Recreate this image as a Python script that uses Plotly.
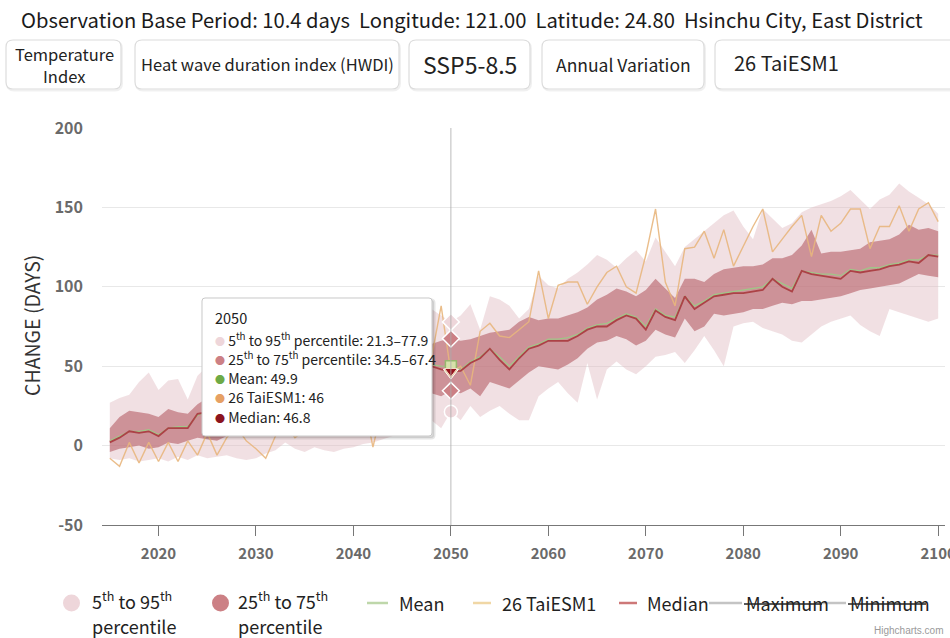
import plotly.graph_objects as go

# ---------------- data ----------------
years = list(range(2015, 2101))

p5 = [-8, -9, -8, -10, -9, -8, -10, -7, -9, -6,
      -8, -7, -6, -8, -9, -8, -5, -3, 2, -2,
      -4, -1, -3, -4, -2, -1, 1, 2, 4, 6,
      8, 12, 14, 16, 11, 21.3, 16, 25, 18, 22,
      25, 20, 16, 16, 31, 36, 40, 33, 27, 52,
      29, 48, 53, 48, 45, 50, 56, 57, 59, 52,
      60, 69, 60, 50, 75, 77, 78, 74, 72, 70,
      66, 65, 70, 75, 78, 80, 82, 76, 72, 69,
      86, 84, 82, 80, 78, 80]

p25 = [-4, -2, -1, 0, -2, -1, 2, 1, 3, 5,
       4, 3, 6, 8, 7, 10, 12, 11, 14, 16,
       15, 18, 19, 18, 21, 22, 21, 24, 26, 25,
       28, 30, 29, 33, 31, 34.5, 33, 36, 31, 40,
       38, 36, 41, 46, 50, 49, 48, 51, 55, 61,
       65, 66, 69, 67, 63, 66, 73, 70, 68, 80,
       72, 75, 83, 82, 83, 84, 86, 86, 88, 90,
       89, 91, 91, 92, 93, 94, 96, 98, 99, 100,
       101, 102, 105, 108, 107, 106]

p75 = [11, 18, 22, 21, 20, 18, 23, 21, 20, 26,
       30, 29, 31, 33, 32, 35, 37, 36, 39, 41,
       40, 44, 45, 44, 48, 50, 49, 53, 55, 54,
       58, 60, 59, 64, 66, 67.4, 66, 67, 69, 71,
       72, 73, 78, 81, 79, 80, 80, 82, 84, 87,
       92, 95, 99, 97, 94, 98, 105, 99, 93, 105,
       105, 103, 108, 111, 112, 113, 113, 114, 118, 118,
       120, 126, 136, 121, 122, 122, 123, 124, 128, 129,
       130, 133, 139, 136, 137, 135]

p95 = [27, 30, 32, 40, 46, 35, 41, 42, 29, 44,
       50, 45, 52, 50, 55, 53, 58, 56, 60, 58,
       63, 61, 65, 63, 68, 66, 70, 68, 73, 71,
       76, 74, 80, 86, 82, 77.9, 82, 89, 73, 94,
       92, 88, 80, 86, 107, 101, 99, 105, 109, 114,
       120, 117, 112, 118, 123, 116, 131, 122, 113, 125,
       130, 135, 140, 145, 148, 138, 130, 149, 143, 137,
       140, 147, 150, 152, 154, 157, 161, 155, 149, 155,
       158, 165, 160, 156, 152, 146]

median = [2, 5, 9, 8, 9, 6, 11, 11, 11, 20,
          21, 19, 22, 24, 22, 25, 27, 26, 29, 31,
          29, 33, 34, 32, 36, 37, 35, 39, 41, 40,
          43, 45, 44, 50, 48, 46.8, 47, 52, 55, 61,
          54, 48, 55, 61, 63, 66, 66, 66, 69, 73,
          75, 75, 79, 82, 80, 73, 85, 81, 79, 94,
          86, 90, 94, 95, 96, 96, 97, 98, 105, 100,
          97, 110, 108, 107, 106, 105, 110, 109, 110, 111,
          113, 114, 116, 115, 120, 119]

mean = [3, 6, 9, 9, 10, 7, 11, 12, 12, 19,
        22, 20, 23, 25, 23, 26, 28, 27, 30, 32,
        31, 34, 35, 34, 37, 38, 37, 40, 42, 42,
        45, 46, 46, 51, 50, 49.9, 48, 53, 56, 61,
        56, 50, 56, 62, 64, 67, 67, 68, 70, 74,
        76, 77, 80, 83, 81, 75, 86, 82, 81, 94,
        88, 91, 95, 96, 97, 98, 99, 100, 105, 102,
        99, 110, 109, 108, 108, 107, 111, 110, 112, 112,
        114, 115, 117, 117, 120, 120]

taiesm1 = [-8, -13, 2, -11, 2, -10, 2, -10, 3, -6,
           8, -6, 5, 12, 3, -2, -8, 6, 14, 5,
           10, 20, 12, 8, 22, 15, 30, -1, 25, 35,
           28, 40, 33, 55, 88, 46, 50, 38, 72, 77,
           69, 68, 73, 78, 110, 80, 101, 103, 103, 89,
           100, 109, 113, 100, 96, 120, 149, 103, 88, 124,
           125, 135, 118, 136, 113, 126, 138, 149, 122, 130,
           138, 145, 119, 145, 135, 140, 149, 149, 124, 138,
           138, 151, 135, 149, 153, 141]

x_ticks = [2020, 2030, 2040, 2050, 2060, 2070, 2080, 2090, 2100]
y_ticks = [-50, 0, 50, 100, 150, 200]
y_tick_labels = ["-50", "0", "50", "100", "150", "200"]
hover_year = 2050

title_text = ("Observation Base Period: 10.4 days  Longitude: 121.00  "
              "Latitude: 24.80  Hsinchu City, East District")
buttons = [["Temperature", "Index"], "Heat wave duration index (HWDI)",
           "SSP5-8.5", "Annual Variation", "26 TaiESM1"]
y_title = "CHANGE (DAYS)"

# ---------------- styling ----------------
FONT = "Noto Sans CJK SC, Noto Sans, sans-serif"
SANS = "Liberation Sans, Arial, sans-serif"
C_LIGHT = "rgba(224,186,193,0.45)"
C_DARK = "rgba(186,104,112,0.66)"
C_LIGHT_SYM = "rgb(238,214,218)"
C_DARK_SYM = "rgb(204,128,133)"
C_MEAN = "rgb(160,198,135)"
C_TAI = "rgba(232,182,125,0.9)"
C_MED = "rgb(172,66,70)"

W, H = 950, 638
L, R, T, B = 102, 945, 128, 525


def px(x):
    return (x - L) / (R - L)


def py(y):
    return (B - y) / (B - T)


fig = go.Figure()

# bands
fig.add_trace(go.Scatter(x=years, y=p5, mode="lines", line=dict(width=0),
                         hoverinfo="skip", showlegend=False))
fig.add_trace(go.Scatter(x=years, y=p95, mode="lines", line=dict(width=0),
                         fill="tonexty", fillcolor=C_LIGHT, hoverinfo="skip",
                         showlegend=False))
fig.add_trace(go.Scatter(x=years, y=p25, mode="lines", line=dict(width=0),
                         hoverinfo="skip", showlegend=False))
fig.add_trace(go.Scatter(x=years, y=p75, mode="lines", line=dict(width=0),
                         fill="tonexty", fillcolor=C_DARK, hoverinfo="skip",
                         showlegend=False))
# lines
fig.add_trace(go.Scatter(x=years, y=mean, mode="lines",
                         line=dict(color=C_MEAN, width=1.3), showlegend=False))
fig.add_trace(go.Scatter(x=years, y=taiesm1, mode="lines",
                         line=dict(color=C_TAI, width=1.4), showlegend=False))
fig.add_trace(go.Scatter(x=years, y=median, mode="lines",
                         line=dict(color=C_MED, width=1.8), showlegend=False))

# hover markers at 2050
i = years.index(hover_year)
fig.add_trace(go.Scatter(x=[hover_year, hover_year], y=[p95[i], p5[i]], mode="markers",
                         marker=dict(symbol=["diamond", "circle"], size=13, color=C_LIGHT_SYM,
                                     line=dict(color="white", width=1.5)),
                         showlegend=False))
fig.add_trace(go.Scatter(x=[hover_year, hover_year], y=[p75[i], p25[i]], mode="markers",
                         marker=dict(symbol="diamond", size=13, color=C_DARK_SYM,
                                     line=dict(color="white", width=1.5)),
                         showlegend=False))
fig.add_trace(go.Scatter(x=[hover_year], y=[mean[i]], mode="markers",
                         marker=dict(symbol="square", size=11, color="rgb(215,225,170)",
                                     line=dict(color="rgb(150,185,110)", width=1.5)),
                         showlegend=False))
fig.add_trace(go.Scatter(x=[hover_year], y=[taiesm1[i]], mode="markers",
                         marker=dict(symbol="triangle-down", size=13, color="rgb(238,200,150)",
                                     line=dict(color="white", width=1)),
                         showlegend=False))
fig.add_trace(go.Scatter(x=[hover_year], y=[median[i]], mode="markers",
                         marker=dict(symbol="triangle-down", size=11, color="rgb(150,20,30)",
                                     line=dict(color="rgb(240,220,200)", width=1)),
                         showlegend=False))

shapes = []
annotations = []


def rrect_path(x0, y0, x1, y1, r):
    pts = [("M", x0 + r, y0), ("L", x1 - r, y0), ("Q", x1, y0, x1, y0 + r),
           ("L", x1, y1 - r), ("Q", x1, y1, x1 - r, y1), ("L", x0 + r, y1),
           ("Q", x0, y1, x0, y1 - r), ("L", x0, y0 + r), ("Q", x0, y0, x0 + r, y0)]
    s = ""
    for p in pts:
        cmd = p[0]
        coords = p[1:]
        parts = []
        for k in range(0, len(coords), 2):
            parts.append(f"{px(coords[k]):.5f},{py(coords[k + 1]):.5f}")
        s += cmd + " " + " ".join(parts) + " "
    return s + "Z"


def txt(x, y, text, size, color="#222", xanchor="left", yanchor="middle",
        family=FONT, **kw):
    annotations.append(dict(x=px(x), y=py(y), xref="paper", yref="paper",
                            text=text, showarrow=False, xanchor=xanchor,
                            yanchor=yanchor, font=dict(size=size, color=color, family=family),
                            **kw))


# crosshair
shapes.append(dict(type="line", xref="x", yref="paper", x0=hover_year, x1=hover_year,
                   y0=0, y1=1, line=dict(color="rgba(170,170,170,0.8)", width=1), layer="above"))

# header
txt(472, 20, title_text, 20.2, "#1a1a1a", xanchor="center")
btn_boxes = [(6, 40, 121, 89), (135, 40, 399, 89), (409, 40, 530, 89),
             (542, 40, 704, 89), (715, 40, 960, 89)]
for (x0, y0, x1, y1) in btn_boxes:
    shapes.append(dict(type="path", xref="paper", yref="paper",
                       path=rrect_path(x0 + 1, y0 + 1.5, x1 + 1, y1 + 1.5, 7),
                       line=dict(color="rgba(0,0,0,0.06)", width=2), fillcolor="rgba(0,0,0,0)"))
    shapes.append(dict(type="path", xref="paper", yref="paper",
                       path=rrect_path(x0, y0, x1, y1, 7),
                       line=dict(color="#dcdcdc", width=1.2), fillcolor="white"))
txt(64, 54, buttons[0][0], 16.5, xanchor="center")
txt(64, 76, buttons[0][1], 16.5, xanchor="center")
txt(267, 64, buttons[1], 16.5, xanchor="center")
txt(470, 64, buttons[2], 23, xanchor="center")
txt(623, 64, buttons[3], 17.5, xanchor="center")
txt(732, 63, buttons[4], 20, xanchor="left")

# y-axis title
annotations.append(dict(x=px(31), y=py(326), xref="paper", yref="paper", text=y_title,
                        showarrow=False, textangle=-90, xanchor="center", yanchor="middle",
                        font=dict(size=19.5, color="#333", family=FONT)))

# tooltip
tx0, ty0, tx1, ty1 = 202, 298, 432, 436
shapes.append(dict(type="path", xref="paper", yref="paper",
                   path=rrect_path(tx0 + 2, ty0 + 2, tx1 + 2, ty1 + 2, 3),
                   line=dict(color="rgba(0,0,0,0.10)", width=3), fillcolor="rgba(0,0,0,0.10)"))
shapes.append(dict(type="path", xref="paper", yref="paper",
                   path=rrect_path(tx0, ty0, tx1, ty1, 3),
                   line=dict(color="#c8c8c8", width=1), fillcolor="white"))


def bullet(c):
    return f'<span style="color:{c};font-size:10px">●</span>'


tip_lines = [
    (C_LIGHT_SYM, f" 5<sup>th</sup> to 95<sup>th</sup> percentile: {p5[i]}–{p95[i]}"),
    (C_DARK_SYM, f" 25<sup>th</sup> to 75<sup>th</sup> percentile: {p25[i]}–{p75[i]}"),
    ("rgb(110,170,70)", f" Mean: {mean[i]}"),
    ("rgb(230,160,100)", f" 26 TaiESM1: {taiesm1[i]}"),
    ("rgb(140,20,30)", f" Median: {median[i]}"),
]
txt(213, 317, str(hover_year), 14.5, "#222")
for k, (c, t) in enumerate(tip_lines):
    txt(213, 339 + k * 19.4, bullet(c) + t, 14, "#222")

# legend
leg_y = 603
shapes.append(dict(type="circle", xref="paper", yref="paper",
                   x0=px(63), x1=px(80), y0=py(leg_y + 8.5), y1=py(leg_y - 8.5),
                   fillcolor=C_LIGHT_SYM, line=dict(width=0)))
shapes.append(dict(type="circle", xref="paper", yref="paper",
                   x0=px(212), x1=px(229), y0=py(leg_y + 8.5), y1=py(leg_y - 8.5),
                   fillcolor=C_DARK_SYM, line=dict(width=0)))
txt(90, 600, "5<sup>th</sup> to 95<sup>th</sup>", 18)
txt(90, 626, "percentile", 18)
txt(236, 600, "25<sup>th</sup> to 75<sup>th</sup>", 18)
txt(236, 626, "percentile", 18)

line_items = [(367, 388, "rgb(190,215,170)", 397, "Mean", 0),
              (473, 491, "rgb(240,215,165)", 500, "26 TaiESM1", 0),
              (619, 637, "rgb(205,120,120)", 645, "Median", 0),
              (709, 742, "#c4c4c4", 744, "Maximum", 78),
              (822, 846, "#c4c4c4", 848, "Minimum", 78)]
for (lx0, lx1, lc, tx, lt, strike) in line_items:
    shapes.append(dict(type="line", xref="paper", yref="paper", x0=px(lx0), x1=px(lx1),
                       y0=py(leg_y), y1=py(leg_y), line=dict(color=lc, width=2.5)))
    txt(tx, leg_y, lt, 18)
    if strike:
        shapes.append(dict(type="line", xref="paper", yref="paper", x0=px(tx), x1=px(tx + strike),
                           y0=py(leg_y + 1), y1=py(leg_y + 1), line=dict(color="#222", width=1.5)))

txt(945, 630, "Highcharts.com", 10, "#9a9a9a", xanchor="right", family=SANS)

fig.update_layout(
    width=W, height=H,
    margin=dict(l=L, r=W - R, t=T, b=H - B, pad=0, autoexpand=False),
    paper_bgcolor="white", plot_bgcolor="white",
    showlegend=False,
    shapes=shapes, annotations=annotations,
    xaxis=dict(range=[2014.2, 2100.7], tickvals=x_ticks, ticks="outside", ticklen=10,
               tickcolor="#777", showline=True, linecolor="#777", linewidth=1.2,
               showgrid=False, zeroline=False, ticklabelstandoff=5,
               ticklabeloverflow="allow", automargin=False,
               tickfont=dict(size=15, color="#6a6a6a", family=FONT, weight="bold")),
    yaxis=dict(range=[-50, 200], tickvals=y_ticks, ticktext=y_tick_labels,
               showgrid=True, gridcolor="#e8e8e8",
               gridwidth=1, zeroline=False, showline=False, ticks="",
               ticklabelstandoff=18, automargin=False,
               tickfont=dict(size=16, color="#6a6a6a", family=FONT, weight="bold")),
)

fig.write_html("out.html")
